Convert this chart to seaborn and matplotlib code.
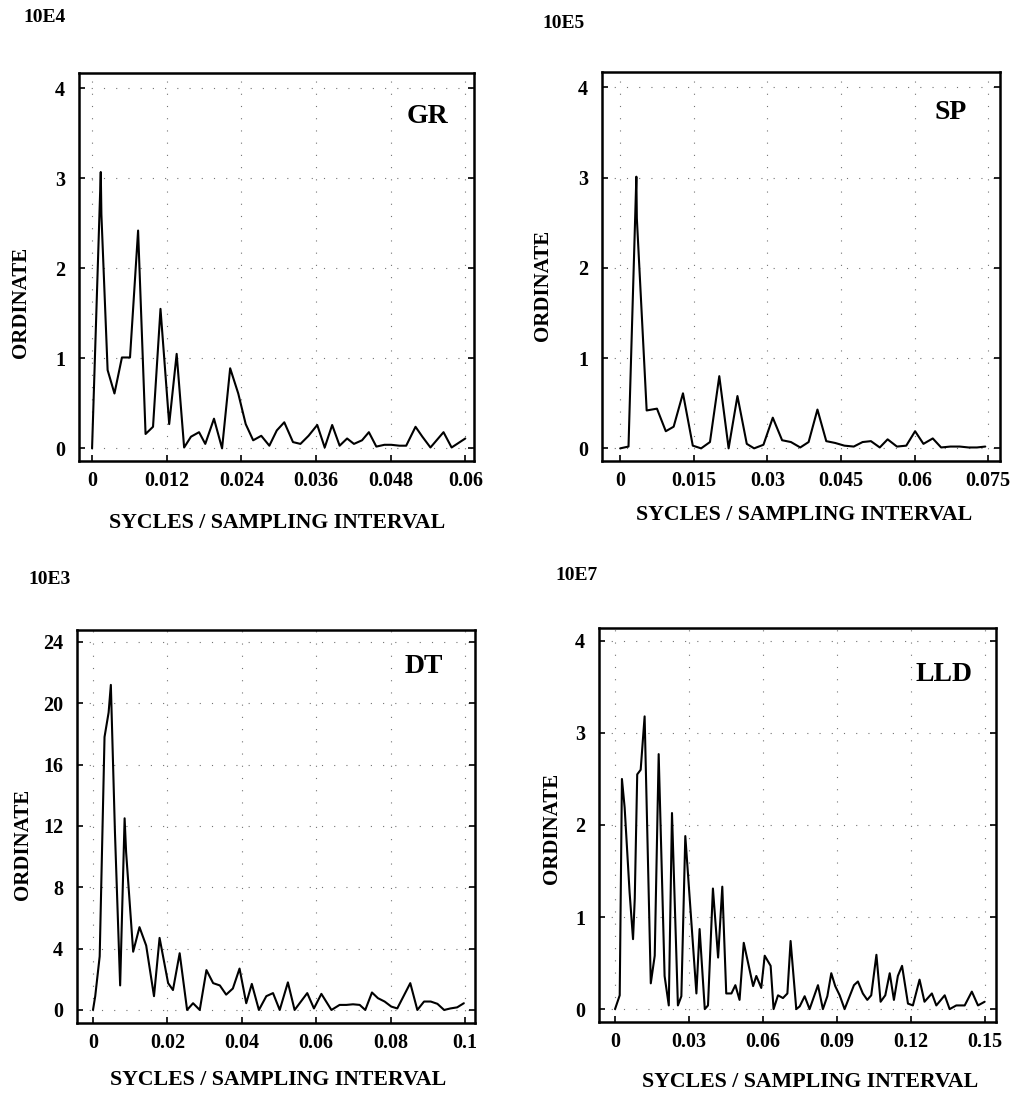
import matplotlib
matplotlib.use("Agg")
import matplotlib.pyplot as plt
import seaborn as sns
import pandas as pd

# ---------------- data ----------------
gr_x = [0.0, 0.0014, 0.0015, 0.0025, 0.0036, 0.0048, 0.0061, 0.0074, 0.0086, 0.0098,
        0.0110, 0.0124, 0.0136, 0.0148, 0.0159, 0.0172, 0.0182, 0.0196, 0.0209, 0.0222,
        0.0235, 0.0247, 0.0259, 0.0272, 0.0285, 0.0297, 0.0309, 0.0323, 0.0335, 0.0348,
        0.0362, 0.0374, 0.0386, 0.0398, 0.0410, 0.0421, 0.0434, 0.0445, 0.0457, 0.0470,
        0.0481, 0.0494, 0.0505, 0.0520, 0.0531, 0.0544, 0.0565, 0.0578, 0.0589, 0.0600]
gr_y = [0.0, 3.07, 2.6, 0.87, 0.61, 1.01, 1.01, 2.42, 0.16, 0.24,
        1.55, 0.27, 1.05, 0.01, 0.13, 0.18, 0.05, 0.33, 0.0, 0.89,
        0.61, 0.27, 0.09, 0.14, 0.03, 0.20, 0.29, 0.07, 0.05, 0.14,
        0.26, 0.01, 0.26, 0.03, 0.11, 0.05, 0.09, 0.18, 0.02, 0.04,
        0.04, 0.03, 0.03, 0.24, 0.13, 0.01, 0.18, 0.01, 0.06, 0.11]

sp_x = [0.0, 0.0017, 0.0033, 0.0034, 0.0054, 0.0075, 0.0093, 0.0109, 0.0128, 0.0148,
        0.0165, 0.0183, 0.0202, 0.0221, 0.0239, 0.0258, 0.0273, 0.0292, 0.0311, 0.0330,
        0.0348, 0.0367, 0.0384, 0.0402, 0.0420, 0.0438, 0.0457, 0.0476, 0.0494, 0.0511,
        0.0529, 0.0545, 0.0564, 0.0583, 0.0601, 0.0618, 0.0637, 0.0654, 0.0673, 0.0692,
        0.0710, 0.0727, 0.0744]
sp_y = [0.0, 0.02, 3.01, 2.55, 0.42, 0.44, 0.19, 0.24, 0.61, 0.03,
        0.0, 0.07, 0.80, 0.0, 0.58, 0.05, 0.0, 0.04, 0.34, 0.09,
        0.07, 0.01, 0.07, 0.43, 0.08, 0.06, 0.03, 0.02, 0.07, 0.08,
        0.01, 0.10, 0.02, 0.03, 0.19, 0.05, 0.11, 0.01, 0.02, 0.02,
        0.01, 0.01, 0.02]

dt_x = [0.0, 0.0006, 0.0018, 0.0031, 0.0042, 0.0048, 0.0059, 0.0073, 0.0085, 0.0089,
        0.0108, 0.0125, 0.0143, 0.0164, 0.0179, 0.0202, 0.0215, 0.0233, 0.0253, 0.0269,
        0.0287, 0.0305, 0.0323, 0.0341, 0.0358, 0.0376, 0.0394, 0.0412, 0.0427, 0.0446,
        0.0466, 0.0484, 0.0502, 0.0524, 0.0542, 0.0576, 0.0594, 0.0614, 0.0641, 0.0663,
        0.0681, 0.0699, 0.0717, 0.0732, 0.0750, 0.0766, 0.0784, 0.0802, 0.0818, 0.0853,
        0.0872, 0.0890, 0.0908, 0.0926, 0.0944, 0.0961, 0.0979, 0.0997]
dt_y = [0.0, 0.9, 3.5, 17.8, 19.4, 21.2, 11.6, 1.6, 12.5, 10.3,
        3.8, 5.4, 4.2, 0.9, 4.7, 1.75, 1.3, 3.7, 0.0, 0.44,
        0.0, 2.6, 1.75, 1.6, 1.0, 1.4, 2.7, 0.44, 1.7, 0.0,
        0.9, 1.1, 0.0, 1.8, 0.0, 1.1, 0.1, 1.05, 0.0, 0.33,
        0.33, 0.37, 0.33, 0.0, 1.14, 0.77, 0.55, 0.22, 0.1, 1.75,
        0.0, 0.55, 0.55, 0.4, 0.0, 0.1, 0.17, 0.44]

lld_x = [0.0, 0.0019, 0.0028, 0.0039, 0.0059, 0.0073, 0.0080, 0.0090, 0.0104, 0.0120,
         0.0145, 0.0161, 0.0177, 0.0201, 0.0218, 0.0231, 0.0255, 0.0269, 0.0285, 0.0330,
         0.0343, 0.0364, 0.0377, 0.0397, 0.0418, 0.0435, 0.0451, 0.0472, 0.0488, 0.0505,
         0.0522, 0.0560, 0.0573, 0.0593, 0.0607, 0.0631, 0.0643, 0.0661, 0.0681, 0.0699,
         0.0712, 0.0735, 0.0749, 0.0769, 0.0789, 0.0823, 0.0843, 0.0861, 0.0877, 0.0893,
         0.0911, 0.0931, 0.0969, 0.0985, 0.1005, 0.1023, 0.1039, 0.1060, 0.1077, 0.1096,
         0.1114, 0.1131, 0.1147, 0.1164, 0.1188, 0.1208, 0.1235, 0.1255, 0.1285, 0.1303,
         0.1337, 0.1357, 0.1384, 0.1418, 0.1447, 0.1472, 0.1499]
lld_y = [0.0, 0.15, 2.5, 2.19, 1.27, 0.76, 1.2, 2.55, 2.6, 3.18,
         0.28, 0.58, 2.77, 0.36, 0.04, 2.13, 0.04, 0.14, 1.88, 0.17,
         0.87, 0.0, 0.04, 1.31, 0.56, 1.33, 0.17, 0.17, 0.26, 0.10,
         0.72, 0.25, 0.36, 0.23, 0.58, 0.47, 0.0, 0.15, 0.12, 0.17,
         0.74, 0.0, 0.03, 0.14, 0.0, 0.26, 0.0, 0.14, 0.39, 0.25,
         0.15, 0.0, 0.26, 0.30, 0.17, 0.10, 0.15, 0.59, 0.08, 0.15,
         0.39, 0.10, 0.36, 0.47, 0.06, 0.04, 0.32, 0.08, 0.17, 0.04,
         0.15, 0.0, 0.04, 0.04, 0.19, 0.04, 0.08]

gr_xticks = [0, 0.012, 0.024, 0.036, 0.048, 0.06]
gr_xlabels = ["0", "0.012", "0.024", "0.036", "0.048", "0.06"]
sp_xticks = [0, 0.015, 0.03, 0.045, 0.06, 0.075]
sp_xlabels = ["0", "0.015", "0.03", "0.045", "0.06", "0.075"]
dt_xticks = [0, 0.02, 0.04, 0.06, 0.08, 0.1]
dt_xlabels = ["0", "0.02", "0.04", "0.06", "0.08", "0.1"]
lld_xticks = [0, 0.03, 0.06, 0.09, 0.12, 0.15]
lld_xlabels = ["0", "0.03", "0.06", "0.09", "0.12", "0.15"]
y4_ticks = [0, 1, 2, 3, 4]
dt_yticks = [0, 4, 8, 12, 16, 20, 24]

names = ["GR", "SP", "DT", "LLD"]
scales = ["10E4", "10E5", "10E3", "10E7"]
x_label = "SYCLES / SAMPLING INTERVAL"
y_label = "ORDINATE"

# ---------------- style ----------------
sns.set_theme(style="white")
plt.rcParams["font.family"] = ["Liberation Serif", "DejaVu Serif"]
plt.rcParams["font.weight"] = "bold"

fig = plt.figure(figsize=(10.16, 10.96), dpi=100)

W, H = 1016, 1096
def box(l, t, r, b):
    return [l / W, 1 - b / H, (r - l) / W, (b - t) / H]

panels = [
    dict(rect=box(79, 73, 474, 461), x=gr_x, y=gr_y, xt=gr_xticks, xl=gr_xlabels,
         yt=y4_ticks, xlim=(-0.0021, 0.0614), ylim=(-0.14, 4.17),
         lab=(0.934, 0.887), scale=(23, 17), ylab=(21, 302), xlab=(277, 523)),
    dict(rect=box(602, 72, 1000, 461), x=sp_x, y=sp_y, xt=sp_xticks, xl=sp_xlabels,
         yt=y4_ticks, xlim=(-0.0037, 0.0774), ylim=(-0.14, 4.17),
         lab=(0.917, 0.895), scale=(542, 24), ylab=(543, 285), xlab=(804, 515)),
    dict(rect=box(77, 630, 475, 1023), x=dt_x, y=dt_y, xt=dt_xticks, xl=dt_xlabels,
         yt=dt_yticks, xlim=(-0.0043, 0.1027), ylim=(-0.85, 24.78),
         lab=(0.92, 0.906), scale=(28, 580), ylab=(23, 844), xlab=(278, 1080)),
    dict(rect=box(599, 628, 996, 1022), x=lld_x, y=lld_y, xt=lld_xticks, xl=lld_xlabels,
         yt=y4_ticks, xlim=(-0.0065, 0.1545), ylim=(-0.14, 4.14),
         lab=(0.942, 0.881), scale=(555, 575), ylab=(552, 828), xlab=(810, 1082)),
]

for p, name, sc in zip(panels, names, scales):
    ax = fig.add_axes(p["rect"])
    df = pd.DataFrame({"freq": p["x"], "ord": p["y"]})
    sns.lineplot(data=df, x="freq", y="ord", ax=ax, color="black", linewidth=1.5,
                 estimator=None, sort=False)
    ax.set_xlim(*p["xlim"])
    ax.set_ylim(*p["ylim"])
    ax.set_xticks(p["xt"])
    ax.set_xticklabels(p["xl"])
    ax.set_yticks(p["yt"])
    ax.set_yticklabels([str(v) for v in p["yt"]])
    ax.set_xlabel("")
    ax.set_ylabel("")
    ax.grid(True, color="0.45", linestyle=(0, (1, 10)), linewidth=0.8)
    for s in ax.spines.values():
        s.set_visible(True)
        s.set_color("black")
        s.set_linewidth(1.8)
    ax.tick_params(axis="both", which="major", direction="in", length=4, width=1.2,
                   color="black", labelsize=14.5, labelcolor="black",
                   left=True, right=True, bottom=True, top=False)
    ax.tick_params(axis="x", pad=7)
    ax.tick_params(axis="y", pad=10)
    for t in ax.get_xticklabels() + ax.get_yticklabels():
        t.set_fontweight("bold")
    ax.text(p["lab"][0], p["lab"][1], name, transform=ax.transAxes, ha="right",
            va="center", fontsize=20, fontweight="bold", color="black")
    fig.text(p["scale"][0] / W, 1 - p["scale"][1] / H, sc, ha="left", va="center",
             fontsize=14, fontweight="bold", color="black")
    fig.text(p["ylab"][0] / W, 1 - p["ylab"][1] / H, y_label, rotation=90,
             ha="center", va="center", fontsize=15, fontweight="bold", color="black")
    fig.text(p["xlab"][0] / W, 1 - p["xlab"][1] / H, x_label, ha="center",
             va="center", fontsize=15.7, fontweight="bold", color="black")

fig.savefig("out.png", dpi=100, facecolor="white")
